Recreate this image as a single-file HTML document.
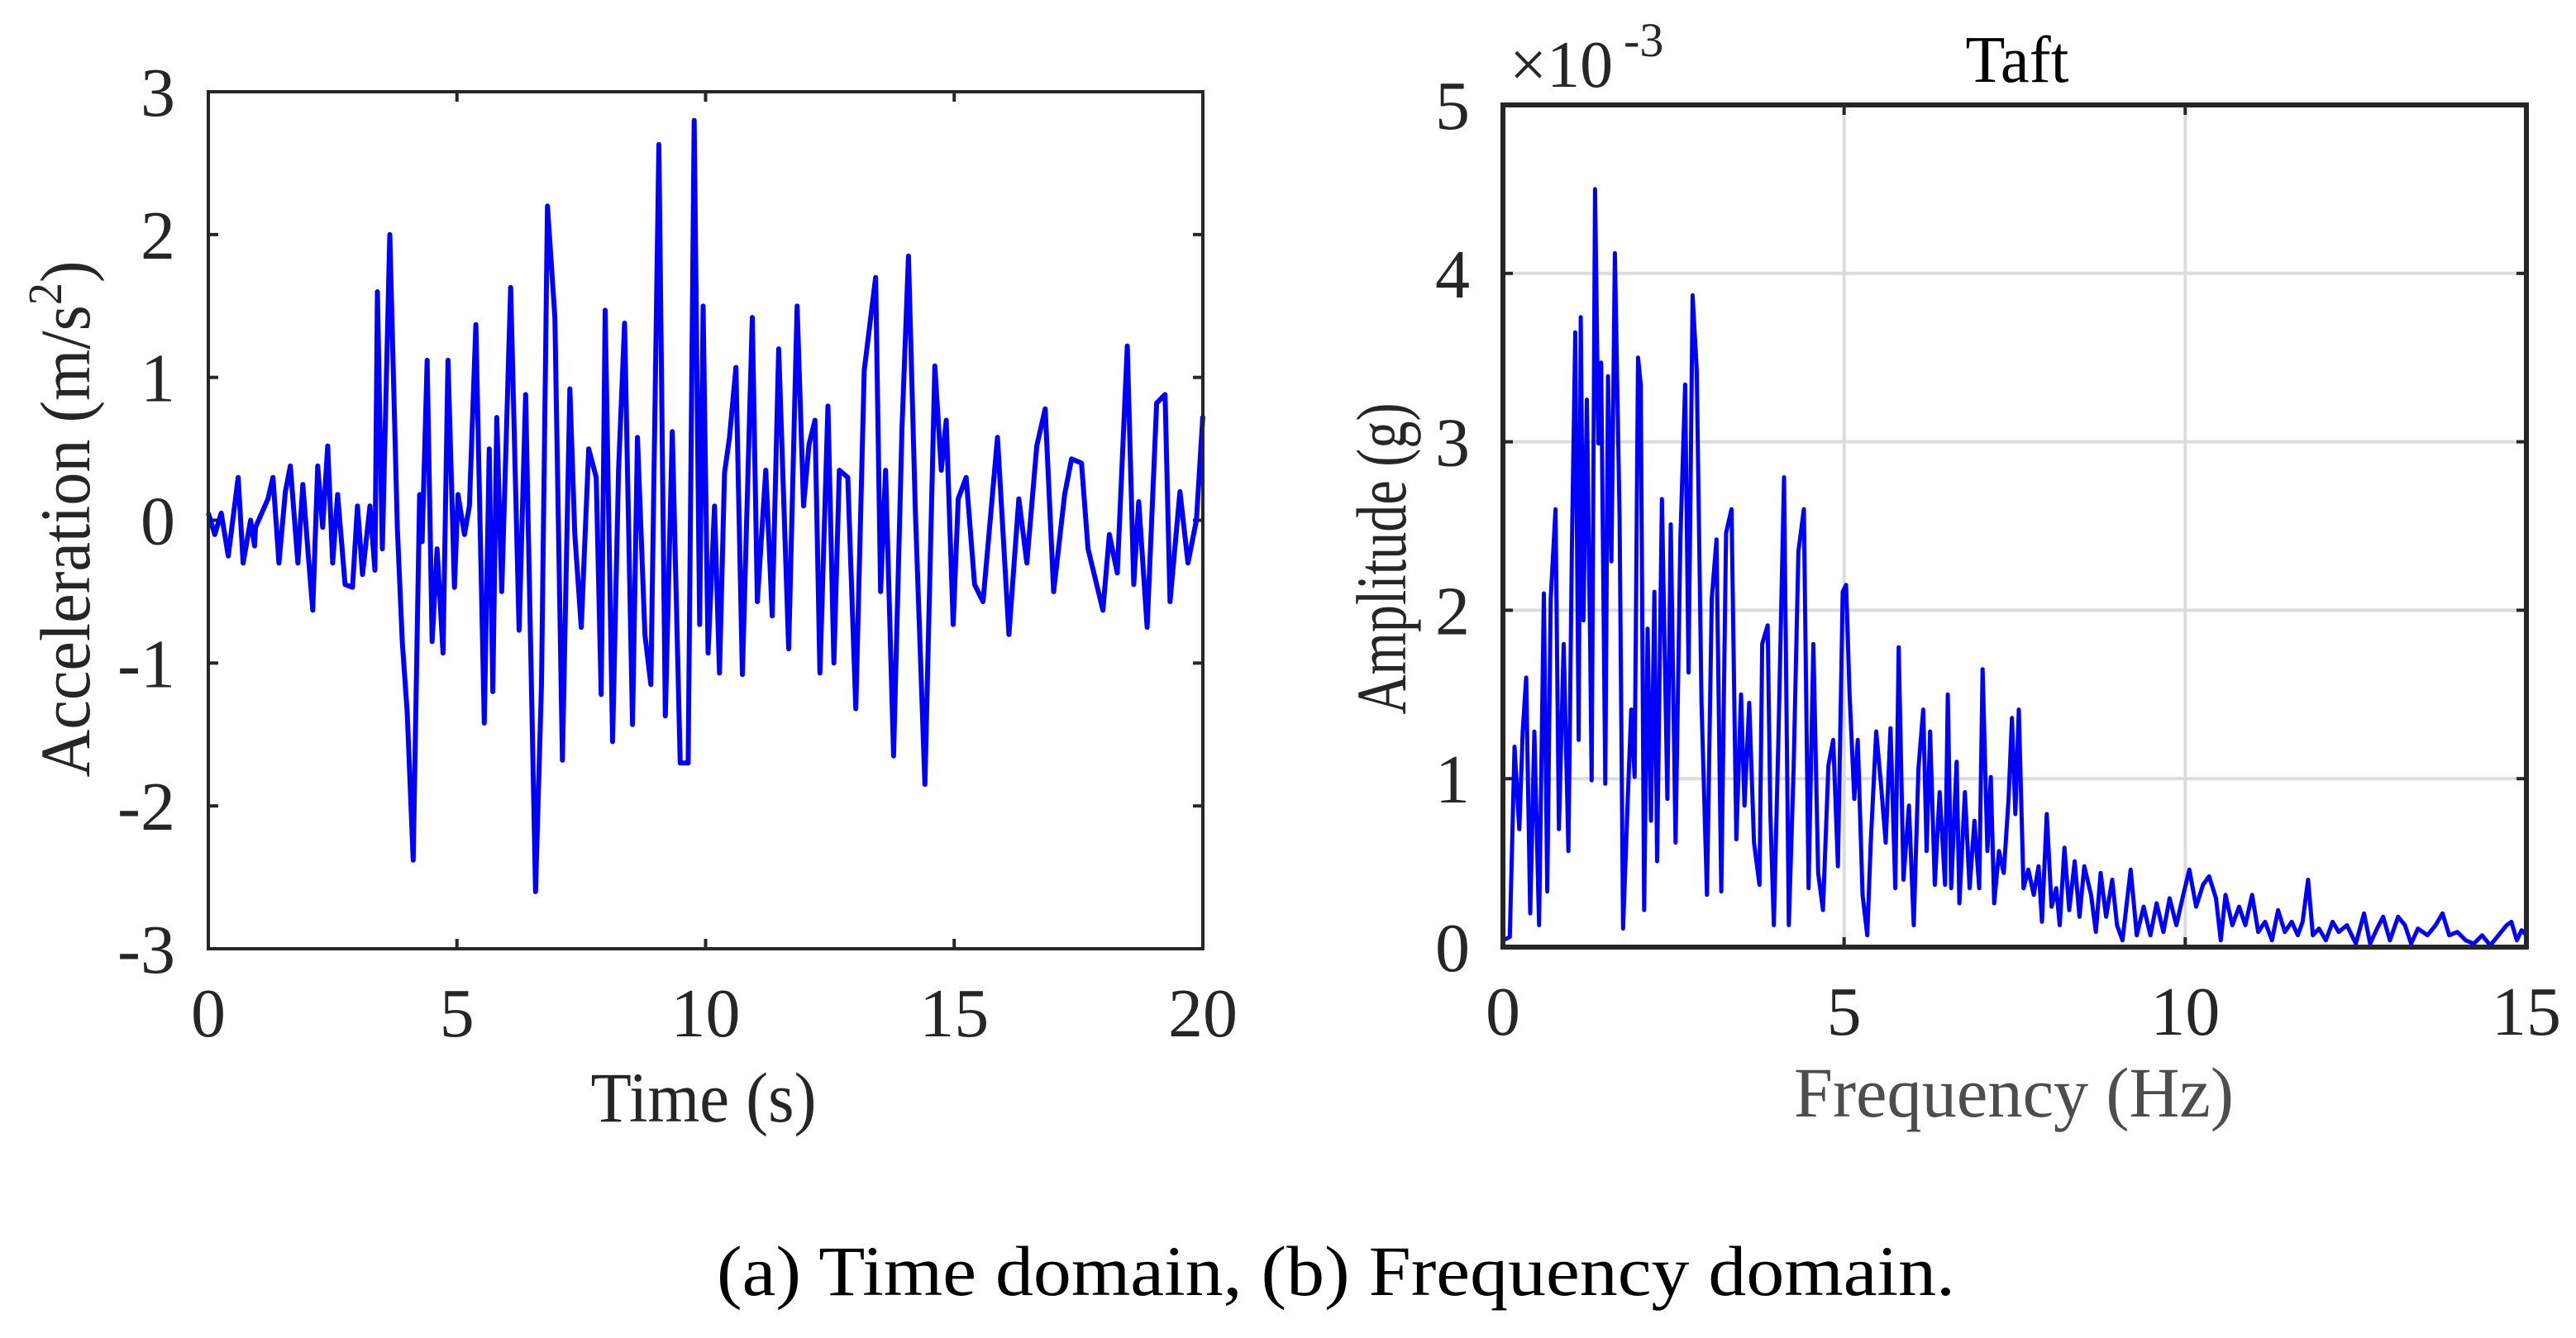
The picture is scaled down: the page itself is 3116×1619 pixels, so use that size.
<!DOCTYPE html>
<html><head><meta charset="utf-8"><style>
html,body{margin:0;padding:0;background:#fff}
svg{display:block}
text{font-family:"Liberation Serif",serif}
</style></head><body>
<svg id="fig" width="3116" height="1619" viewBox="0 0 3116 1619" xmlns="http://www.w3.org/2000/svg">
<rect width="3116" height="1619" fill="#fff"/>
<g id="left"></g>
<g id="right"></g>
<text x="851" y="1357" font-size="86" text-anchor="middle" fill="#262626" textLength="273" lengthAdjust="spacingAndGlyphs">Time (s)</text>
<text transform="translate(108,628) rotate(-90)" font-size="86" text-anchor="middle" fill="#262626" textLength="625" lengthAdjust="spacingAndGlyphs">Acceleration (m/s<tspan font-size="58" dy="-34">2</tspan><tspan dy="34">)</tspan></text>
<text x="2436" y="1351" font-size="86" text-anchor="middle" fill="#4d4d4d" textLength="532" lengthAdjust="spacingAndGlyphs">Frequency (Hz)</text>
<text transform="translate(1700,676) rotate(-90)" font-size="86" text-anchor="middle" fill="#262626" textLength="377" lengthAdjust="spacingAndGlyphs">Amplitude (g)</text>
<text x="2440" y="99" font-size="80" text-anchor="middle" fill="#000" textLength="125" lengthAdjust="spacingAndGlyphs">Taft</text>
<text x="1826" y="105" font-size="80" fill="#262626">×10</text>
<text x="1964" y="68" font-size="58" fill="#262626">-3</text>
<text x="867" y="1567" font-size="86" fill="#000" textLength="1498" lengthAdjust="spacingAndGlyphs">(a) Time domain, (b) Frequency domain.</text>
</svg>
<script>
const NS='http://www.w3.org/2000/svg';
// time-domain data: [time s, acceleration m/s^2]
const timeS=[0,0.13,0.26,0.4,0.6,0.7,0.85,0.93,0.95,1.2,1.3,1.42,1.55,1.65,1.8,1.9,2.0,2.1,2.2,2.3,2.4,2.5,2.6,2.75,2.9,3.0,3.1,3.25,3.35,3.4,3.5,3.65,3.8,3.9,4.0,4.12,4.25,4.3,4.4,4.5,4.6,4.72,4.82,4.95,5.02,5.15,5.25,5.38,5.55,5.65,5.72,5.8,5.9,6.08,6.25,6.38,6.58,6.7,6.82,6.97,7.12,7.27,7.37,7.5,7.65,7.8,7.9,7.98,8.13,8.25,8.37,8.53,8.63,8.78,8.9,9.06,9.19,9.33,9.49,9.65,9.77,9.88,9.95,10.05,10.18,10.28,10.38,10.48,10.61,10.74,10.94,11.04,11.21,11.34,11.47,11.67,11.84,11.97,12.08,12.2,12.3,12.46,12.58,12.69,12.86,13.02,13.19,13.42,13.52,13.62,13.78,13.95,14.08,14.22,14.41,14.61,14.74,14.84,14.98,15.08,15.24,15.41,15.58,15.87,16.1,16.3,16.46,16.66,16.83,17.0,17.22,17.36,17.56,17.69,17.99,18.12,18.28,18.48,18.61,18.71,18.88,19.07,19.24,19.34,19.54,19.7,19.87,20];
const accel=[0.05,-0.1,0.05,-0.25,0.3,-0.3,0.0,-0.18,-0.05,0.15,0.3,-0.3,0.2,0.38,-0.3,0.25,-0.2,-0.63,0.38,-0.05,0.52,-0.3,0.18,-0.45,-0.47,0.1,-0.38,0.1,-0.35,1.6,-0.2,2.0,-0.05,-0.85,-1.35,-2.38,0.18,-0.15,1.12,-0.85,-0.2,-0.93,1.12,-0.47,0.18,-0.1,0.1,1.37,-1.42,0.5,-1.2,0.72,-0.5,1.63,-0.77,0.88,-2.6,-1.15,2.2,1.42,-1.68,0.92,-0.1,-0.75,0.5,0.3,-1.22,1.47,-1.55,0.35,1.38,-1.43,0.58,-0.8,-1.15,2.63,-1.37,0.62,-1.7,-1.7,2.8,-0.73,1.5,-0.93,0.1,-1.07,0.33,0.58,1.07,-1.08,1.42,-0.57,0.35,-0.67,1.2,-0.9,1.5,0.1,0.53,0.7,-1.07,0.8,-1.0,0.35,0.3,-1.32,1.05,1.7,-0.5,0.35,-1.65,0.65,1.85,0.05,-1.85,1.08,0.35,0.7,-0.73,0.15,0.3,-0.45,-0.57,0.58,-0.8,0.15,-0.3,0.52,0.78,-0.5,0.18,0.43,0.4,-0.2,-0.63,-0.1,-0.37,1.22,-0.45,0.13,-0.75,0.82,0.88,-0.57,0.2,-0.3,0,0.73];
const leftXTicks=[0,5,10,15,20];
const leftYTicks=[-3,-2,-1,0,1,2,3];
// frequency-domain data: [Hz, amplitude x1e-3 g]
const freqHz=[0,0.1,0.17,0.24,0.29,0.34,0.4,0.46,0.53,0.6,0.65,0.7,0.77,0.82,0.89,0.96,1.01,1.06,1.11,1.14,1.18,1.23,1.28,1.3,1.35,1.4,1.44,1.5,1.54,1.59,1.64,1.71,1.76,1.83,1.88,1.93,1.98,2.02,2.07,2.12,2.17,2.22,2.26,2.33,2.41,2.46,2.53,2.6,2.67,2.72,2.78,2.84,2.91,2.99,3.06,3.13,3.2,3.27,3.35,3.42,3.49,3.54,3.61,3.68,3.76,3.8,3.88,3.92,3.97,4.04,4.12,4.19,4.26,4.33,4.41,4.48,4.55,4.62,4.69,4.77,4.84,4.91,4.98,5.03,5.08,5.15,5.2,5.27,5.34,5.39,5.47,5.54,5.61,5.68,5.75,5.8,5.87,5.95,6.02,6.09,6.16,6.21,6.26,6.33,6.4,6.48,6.52,6.57,6.65,6.69,6.77,6.84,6.91,6.98,7.03,7.1,7.15,7.2,7.27,7.34,7.41,7.46,7.51,7.56,7.63,7.7,7.78,7.85,7.9,7.97,8.04,8.11,8.16,8.23,8.3,8.38,8.45,8.52,8.62,8.69,8.76,8.84,8.93,9.0,9.08,9.2,9.29,9.39,9.49,9.58,9.68,9.77,9.87,9.97,10.06,10.16,10.26,10.35,10.45,10.52,10.59,10.69,10.79,10.88,10.98,11.07,11.17,11.27,11.36,11.46,11.56,11.65,11.72,11.8,11.87,11.96,12.06,12.16,12.25,12.37,12.5,12.62,12.71,12.81,12.9,13.0,13.12,13.22,13.31,13.41,13.55,13.67,13.77,13.87,13.99,14.11,14.23,14.35,14.47,14.59,14.71,14.78,14.86,14.93,15];
const amp=[0.04,0.06,1.19,0.7,1.28,1.6,0.2,1.28,0.13,2.1,0.33,2.07,2.6,0.7,1.8,0.57,2.37,3.65,1.23,3.74,1.94,3.25,1.76,0.99,4.5,2.99,3.47,0.97,3.39,2.29,4.12,2.55,0.11,0.88,1.41,1.01,3.5,3.34,0.22,1.89,0.75,2.11,0.51,2.66,0.88,2.51,0.62,2.42,3.34,1.63,3.87,3.43,1.45,0.31,2.07,2.42,0.33,2.46,2.6,0.64,1.5,0.84,1.45,0.62,0.37,1.8,1.91,0.79,0.13,1.28,2.79,0.13,1.06,2.35,2.6,0.35,1.8,0.44,0.22,1.08,1.23,0.48,2.11,2.15,1.5,0.88,1.23,0.31,0.07,0.62,1.28,0.97,0.62,1.3,0.35,1.78,0.4,0.84,0.13,1.06,1.41,0.57,1.28,0.37,0.92,0.37,1.5,0.35,1.1,0.26,0.92,0.35,0.75,0.35,1.65,0.57,1.01,0.26,0.57,0.44,0.88,1.36,0.79,1.41,0.35,0.46,0.31,0.48,0.15,0.79,0.24,0.35,0.13,0.59,0.22,0.51,0.18,0.48,0.31,0.09,0.44,0.18,0.4,0.13,0.04,0.46,0.07,0.24,0.07,0.26,0.09,0.29,0.13,0.31,0.46,0.24,0.37,0.42,0.29,0.04,0.31,0.13,0.24,0.13,0.31,0.09,0.15,0.04,0.22,0.09,0.15,0.07,0.15,0.4,0.07,0.11,0.04,0.15,0.09,0.13,0.02,0.2,0.02,0.11,0.18,0.04,0.18,0.13,0.02,0.11,0.07,0.13,0.2,0.07,0.09,0.04,0.02,0.07,0.01,0.07,0.13,0.15,0.04,0.1,0.07];
const rightXTicks=[0,5,10,15];
const rightYTicks=[0,1,2,3,4,5];

function el(tag,attrs,parent){const e=document.createElementNS(NS,tag);for(const k in attrs)e.setAttribute(k,attrs[k]);parent.appendChild(e);return e;}

// left axes
const L={x0:252,x1:1455,y0:111,y1:1148};
const lx=t=>L.x0+(t-0)/(20-0)*(L.x1-L.x0);
const ly=v=>L.y0+(3-v)/(3-(-3))*(L.y1-L.y0);
const gl=document.getElementById('left');
leftXTicks.forEach(t=>{
  const a=el('line',{x1:lx(t),x2:lx(t),y1:L.y1,y2:L.y1-12,stroke:'#262626','stroke-width':4},gl);
  
  
  const b=el('line',{x1:lx(t),x2:lx(t),y1:L.y0,y2:L.y0+12,stroke:'#262626','stroke-width':4},gl);
  
  
  const tx=el('text',{x:lx(t),y:1254,'font-size':84,'text-anchor':'middle',fill:'#262626'},gl);
  tx.textContent=t;
  
  
});
leftYTicks.forEach(v=>{
  const a=el('line',{x1:L.x0,x2:L.x0+12,y1:ly(v),y2:ly(v),stroke:'#262626','stroke-width':4},gl);
  
  
  const b=el('line',{x1:L.x1,x2:L.x1-12,y1:ly(v),y2:ly(v),stroke:'#262626','stroke-width':4},gl);
  
  
  const tx=el('text',{x:212,y:ly(v)+29,'font-size':84,'text-anchor':'end',fill:'#262626'},gl);
  tx.textContent=v;
  
  
});
let d='';
timeS.forEach((t,i)=>{d+=(i?'L':'M')+lx(t).toFixed(1)+','+ly(accel[i]).toFixed(1);});
const lp=el('path',{d:d,fill:'none',stroke:'#0000ff','stroke-width':6,'stroke-linejoin':'round'},gl);


const lb=el('rect',{x:L.x0,y:L.y0,width:L.x1-L.x0,height:L.y1-L.y0,fill:'none',stroke:'#262626','stroke-width':4},gl);



// right axes
const R={x0:1818,x1:3056,y0:127,y1:1146};
const rx=f=>R.x0+(f-0)/(15-0)*(R.x1-R.x0);
const ry=a=>R.y1-(a-0)/(5-0)*(R.y1-R.y0);
const gr=document.getElementById('right');
rightXTicks.forEach(f=>{
  if(f>0&&f<15){
    const g=el('line',{x1:rx(f),x2:rx(f),y1:R.y0,y2:R.y1,stroke:'#dcdcdc','stroke-width':4},gr);
    
    
  }
});
rightYTicks.forEach(a=>{
  if(a>0&&a<5){
    const g=el('line',{x1:R.x0,x2:R.x1,y1:ry(a),y2:ry(a),stroke:'#dcdcdc','stroke-width':4},gr);
    
    
  }
});
rightXTicks.forEach(f=>{
  const a=el('line',{x1:rx(f),x2:rx(f),y1:R.y1,y2:R.y1-12,stroke:'#262626','stroke-width':4},gr);
  
  
  const b=el('line',{x1:rx(f),x2:rx(f),y1:R.y0,y2:R.y0+12,stroke:'#262626','stroke-width':4},gr);
  
  
  const tx=el('text',{x:rx(f),y:1252,'font-size':84,'text-anchor':'middle',fill:'#262626'},gr);
  tx.textContent=f;
  
  
});
rightYTicks.forEach(a=>{
  const t1=el('line',{x1:R.x0,x2:R.x0+12,y1:ry(a),y2:ry(a),stroke:'#262626','stroke-width':4},gr);
  
  
  const t2=el('line',{x1:R.x1,x2:R.x1-12,y1:ry(a),y2:ry(a),stroke:'#262626','stroke-width':4},gr);
  
  
  const tx=el('text',{x:1778,y:ry(a)+29,'font-size':84,'text-anchor':'end',fill:'#262626'},gr);
  tx.textContent=a;
  
  
});
let d2='';
freqHz.forEach((f,i)=>{d2+=(i?'L':'M')+rx(f).toFixed(1)+','+ry(amp[i]).toFixed(1);});
const rp=el('path',{d:d2,fill:'none',stroke:'#0000ff','stroke-width':5,'stroke-linejoin':'round'},gr);


const rb=el('rect',{x:R.x0,y:R.y0,width:R.x1-R.x0,height:R.y1-R.y0,fill:'none',stroke:'#262626','stroke-width':6},gr);


</script>
</body></html>
